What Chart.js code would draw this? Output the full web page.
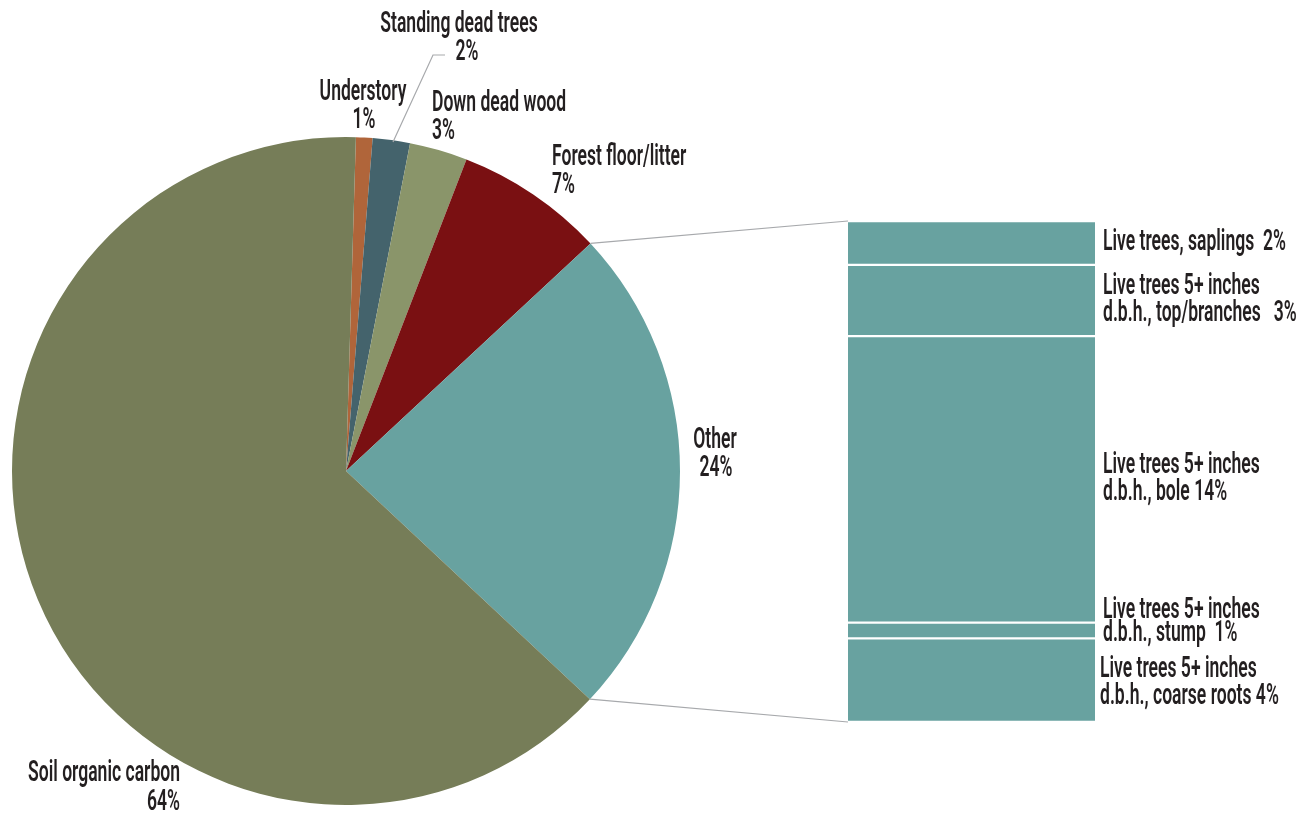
<!DOCTYPE html>
<html>
<head>
<meta charset="utf-8">
<script src="https://cdn.jsdelivr.net/npm/chart.js@4.4.1/dist/chart.umd.min.js"></script>
<style>
  html, body { margin: 0; padding: 0; background: #fff; }
  #wrap { position: relative; width: 1314px; height: 819px; }
  #wrap canvas { position: absolute; left: 0; top: 0; }
</style>
</head>
<body>
<div id="wrap">
  <canvas id="pie" width="1314" height="819"></canvas>
  <canvas id="bar" width="1314" height="819"></canvas>
</div>
<script>
// pie : repartition du carbone (% affichés arrondis)
var pieLabels = ['Understory', 'Standing dead trees', 'Down dead wood', 'Forest floor/litter', 'Other', 'Soil organic carbon'];
var pieValues = [0.8, 1.8, 2.8, 7.2, 23.9, 63.5];
var piePct = ['1%', '2%', '3%', '7%', '24%', '64%'];
var pieColors = ['#b0653a', '#44636c', '#8a956a', '#7a1012', '#68a2a0', '#767d58'];

// barre empilée : détail de "Other"
var barLabels = [
  ['Live trees, saplings  2%'],
  ['Live trees 5+ inches', 'd.b.h., top/branches   3%'],
  ['Live trees 5+ inches', 'd.b.h., bole 14%'],
  ['Live trees 5+ inches', 'd.b.h., stump  1%'],
  ['Live trees 5+ inches', 'd.b.h., coarse roots 4%']
];
var barValues = [2.1, 3.4, 13.7, 0.75, 4.0];

var TXT = '#231f20';
var LINE = '#a7a9ac';
var FONT = '600 30px Roboto';
var SX = 0.585; // texte condensé

function txt(ctx, s, x, y, align) {
  ctx.save();
  ctx.translate(x, y);
  ctx.scale(SX, 1);
  ctx.font = FONT;
  ctx.fillStyle = TXT;
  ctx.textAlign = align;
  ctx.textBaseline = 'middle';
  ctx.fillText(s, 0, 0);
  ctx.restore();
}

// position des étiquettes du camembert (x, y de la 1re ligne, alignement)
var pieLabelPos = [
  [363, 92, 'center', 364],
  [459, 24, 'center', 467],
  [432, 103, 'left', 432],
  [552, 157, 'left', 552],
  [715, 440, 'center', 716],
  [180, 773, 'right', 180]
];

var pieLabelPlugin = {
  id: 'pieLabels',
  afterDraw: function(chart) {
    var ctx = chart.ctx;
    // trait de rappel pour "Standing dead trees"
    ctx.save();
    ctx.strokeStyle = LINE;
    ctx.lineWidth = 1.2;
    ctx.beginPath();
    ctx.moveTo(393, 142);
    ctx.lineTo(433, 55);
    ctx.lineTo(445, 55);
    ctx.stroke();
    ctx.restore();
    for (var i = 0; i < pieLabels.length; i++) {
      var p = pieLabelPos[i];
      txt(ctx, pieLabels[i], p[0], p[1], p[2]);
      txt(ctx, piePct[i], p[3], p[1] + (i == 5 ? 29 : 28), p[2]);
    }
  }
};

var pieChart = new Chart(document.getElementById('pie'), {
  type: 'pie',
  data: {
    labels: pieLabels,
    datasets: [{
      data: pieValues,
      backgroundColor: pieColors,
      borderWidth: 0
    }]
  },
  options: {
    responsive: false,
    animation: false,
    rotation: 1.7,
    layout: { padding: { left: 12, top: 137, right: 634, bottom: 14 } },
    plugins: { legend: { display: false }, tooltip: { enabled: false } }
  },
  plugins: [pieLabelPlugin]
});

var barOffsets = [0, 0, 0, -8, 3];

var barLabelPlugin = {
  id: 'barLabels',
  afterDraw: function(chart) {
    var ctx = chart.ctx;
    // lignes de liaison entre la part "Other" et la barre
    var arc = pieChart.getDatasetMeta(0).data[4];
    var a0 = arc.startAngle, a1 = arc.endAngle, r = arc.outerRadius;
    var area = chart.chartArea;
    ctx.save();
    ctx.strokeStyle = LINE;
    ctx.lineWidth = 1.2;
    ctx.beginPath();
    ctx.moveTo(arc.x + r * Math.cos(a0), arc.y + r * Math.sin(a0));
    ctx.lineTo(area.left, area.top);
    ctx.moveTo(arc.x + r * Math.cos(a1), arc.y + r * Math.sin(a1));
    ctx.lineTo(area.left, area.bottom);
    ctx.stroke();
    ctx.restore();

    for (var i = 0; i < barLabels.length; i++) {
      var el = chart.getDatasetMeta(i).data[0];
      var cy = (el.y + el.base) / 2 + barOffsets[i];
      var lines = barLabels[i];
      var lh = i == 3 ? 23 : 27;
      var y0 = cy - (lines.length - 1) * lh / 2;
      for (var j = 0; j < lines.length; j++) {
        txt(ctx, lines[j], i == 4 ? 1100 : 1103, y0 + j * lh, 'left');
      }
    }
  }
};

var barSum = 0;
for (var k = 0; k < barValues.length; k++) barSum += barValues[k];

var barData = [];
for (var i = 0; i < barValues.length; i++) {
  barData.push({
    label: barLabels[i].join(' '),
    data: [barValues[i]],
    backgroundColor: '#68a2a0',
    borderColor: '#ffffff',
    borderWidth: { top: 1.5, bottom: 1.5, left: 0, right: 0 },
    borderSkipped: false,
    barPercentage: 1,
    categoryPercentage: 1,
    stack: 'other'
  });
}

var barChart = new Chart(document.getElementById('bar'), {
  type: 'bar',
  data: { labels: ['Other'], datasets: barData },
  options: {
    responsive: false,
    animation: false,
    layout: { padding: { left: 848, top: 221, right: 219, bottom: 97 } },
    scales: {
      x: { display: false, stacked: true },
      y: { display: false, stacked: true, min: 0, max: barSum, reverse: true }
    },
    plugins: { legend: { display: false }, tooltip: { enabled: false } }
  },
  plugins: [barLabelPlugin]
});
</script>
</body>
</html>
